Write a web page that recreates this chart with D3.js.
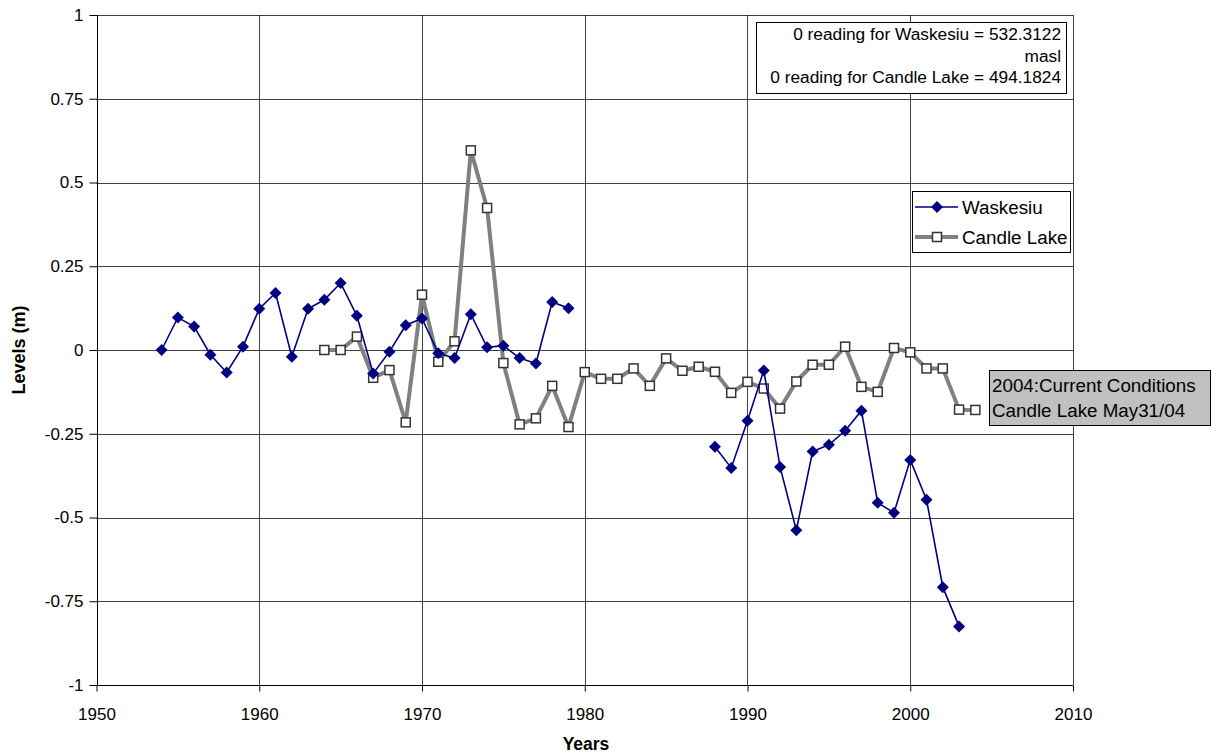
<!DOCTYPE html>
<html><head><meta charset="utf-8">
<script src="https://cdn.jsdelivr.net/npm/d3@7"></script>
<style>body{margin:0;background:#fff;} svg{display:block;} text{font-family:"Liberation Sans",Arial,sans-serif;}</style>
</head><body>
<svg id="c" width="1212" height="753"></svg>
<script>
const waskYears = [1954,1955,1956,1957,1958,1959,1960,1961,1962,1963,1964,1965,1966,1967,1968,1969,1970,1971,1972,1973,1974,1975,1976,1977,1978,1979,
  1988,1989,1990,1991,1992,1993,1994,1995,1996,1997,1998,1999,2000,2001,2002,2003];
const waskValues = [0.0,0.097,0.07,-0.014,-0.067,0.01,0.123,0.17,-0.02,0.123,0.15,0.2,0.102,-0.07,-0.005,0.074,0.094,-0.01,-0.024,0.107,0.008,0.013,-0.024,-0.04,0.143,0.125,
  -0.289,-0.352,-0.211,-0.061,-0.349,-0.538,-0.303,-0.283,-0.241,-0.181,-0.456,-0.486,-0.328,-0.447,-0.708,-0.825];
const candleYears = d3.range(1964, 2005);
const candleValues = [0.0,0.0,0.04,-0.083,-0.06,-0.216,0.165,-0.035,0.026,0.596,0.424,-0.039,-0.222,-0.204,-0.107,-0.23,
  -0.066,-0.086,-0.086,-0.055,-0.107,-0.025,-0.062,-0.05,-0.065,-0.128,-0.095,-0.115,-0.175,-0.094,-0.044,-0.044,0.01,-0.11,-0.125,0.006,-0.007,-0.055,-0.055,-0.178,-0.179];
const xTicks = [1950,1960,1970,1980,1990,2000,2010];
const yTicks = [-1,-0.75,-0.5,-0.25,0,0.25,0.5,0.75,1];
const infoLines = ["0 reading for Waskesiu = 532.3122","masl","0 reading for Candle Lake = 494.1824"];
const noteLines = ["2004:Current Conditions","Candle Lake May31/04"];
const seriesNames = ["Waskesiu","Candle Lake"];

const svg = d3.select("#c");
const L = 96.5, R = 1073, T = 15, B = 685;
const x = d3.scaleLinear().domain([1950,2010]).range([L,R]);
const y = d3.scaleLinear().domain([-1,1]).range([B,T]);
const FF = "Liberation Sans, Arial, sans-serif";

// gridlines
const g = svg.append("g");
g.selectAll("line.h").data(yTicks).join("line")
  .attr("x1",L).attr("x2",R).attr("y1",d=>Math.round(y(d))+0.5).attr("y2",d=>Math.round(y(d))+0.5)
  .attr("stroke","#000").attr("stroke-width",1).attr("stroke-opacity",0.75);
g.selectAll("line.v").data(xTicks).join("line")
  .attr("y1",T).attr("y2",B).attr("x1",d=>Math.round(x(d))+0.5).attr("x2",d=>Math.round(x(d))+0.5)
  .attr("stroke","#000").attr("stroke-width",1).attr("stroke-opacity",0.75);

// axes
const yAxis = d3.axisLeft(y).tickValues(yTicks).tickSize(8).tickPadding(6).tickFormat(d=>String(d));
const ya = svg.append("g").attr("transform",`translate(${Math.round(L)+0.5},0)`).call(yAxis);
ya.selectAll("text").attr("font-size",17).attr("fill","#000").attr("font-family",FF);
ya.selectAll("line,path").attr("stroke","#000");
ya.select(".domain").attr("d",`M0,${T}V${B}`);
const xAxis = d3.axisBottom(x).tickValues(xTicks).tickSize(6).tickPadding(16).tickFormat(d=>String(d));
const xa = svg.append("g").attr("transform",`translate(0,${Math.round(B)+0.5})`).call(xAxis);
xa.selectAll("text").attr("font-size",17).attr("fill","#000").attr("font-family",FF);
xa.selectAll("line,path").attr("stroke","#000");
xa.select(".domain").attr("d",`M${L},0H${R}`);

svg.append("text").attr("x",586).attr("y",750).attr("text-anchor","middle")
  .attr("font-size",17.5).attr("font-weight","bold").text("Years");
svg.append("text").attr("transform","translate(25,350) rotate(-90)").attr("text-anchor","middle")
  .attr("font-size",18).attr("font-weight","bold").text("Levels (m)");

const cData = candleYears.map((yr,i)=>({x:yr,y:candleValues[i]}));
const wData = waskYears.map((yr,i)=>({x:yr,y:waskValues[i]}));
const line = d3.line().x(d=>x(d.x)).y(d=>y(d.y));
const wSegs = [wData.filter(d=>d.x<1980), wData.filter(d=>d.x>1980)];

svg.append("path").datum(cData).attr("d",line).attr("fill","none").attr("stroke","#808080").attr("stroke-width",4).attr("stroke-linejoin","round");
svg.selectAll("rect.cl").data(cData).join("rect")
  .attr("x",d=>x(d.x)-4.5).attr("y",d=>y(d.y)-4.5).attr("width",9).attr("height",9)
  .attr("fill","#fff").attr("stroke","#333").attr("stroke-width",1.5);

wSegs.forEach(s=>svg.append("path").datum(s).attr("d",line).attr("fill","none").attr("stroke","#000080").attr("stroke-width",1.6));
const diamond = "M0,-6L6,0L0,6L-6,0Z";
svg.selectAll("path.wk").data(wData).join("path")
  .attr("d",diamond).attr("transform",d=>`translate(${x(d.x)},${y(d.y)})`).attr("fill","#000080");

// info box
svg.append("rect").attr("x",756.5).attr("y",22.5).attr("width",310).attr("height",71).attr("fill","#fff").attr("stroke","#000");
svg.selectAll("text.info").data(infoLines).join("text")
  .attr("x",1061).attr("y",(d,i)=>40+i*21.5).attr("text-anchor","end").attr("font-size",17.3).text(d=>d);

// legend
svg.append("rect").attr("x",912.5).attr("y",191.5).attr("width",158).attr("height",61).attr("fill","#fff").attr("stroke","#000");
const ly = [207,237];
svg.append("line").attr("x1",915).attr("x2",958).attr("y1",ly[0]).attr("y2",ly[0]).attr("stroke","#000080").attr("stroke-width",1.6);
svg.append("path").attr("d",diamond).attr("transform",`translate(937,${ly[0]})`).attr("fill","#000080");
svg.append("line").attr("x1",915).attr("x2",958).attr("y1",ly[1]).attr("y2",ly[1]).attr("stroke","#808080").attr("stroke-width",4);
svg.append("rect").attr("x",932.5).attr("y",ly[1]-4.5).attr("width",9).attr("height",9).attr("fill","#fff").attr("stroke","#333").attr("stroke-width",1.5);
svg.selectAll("text.lg").data(seriesNames).join("text")
  .attr("x",962).attr("y",(d,i)=>ly[i]+6.5).attr("font-size",18.8).text(d=>d);

// note box
svg.append("rect").attr("x",989.5).attr("y",370.5).attr("width",221).attr("height",55).attr("fill","#c0c0c0").attr("stroke","#000");
svg.selectAll("text.note").data(noteLines).join("text")
  .attr("x",992).attr("y",(d,i)=>392+i*24.5).attr("font-size",18.8).text(d=>d);
</script>
</body></html>
